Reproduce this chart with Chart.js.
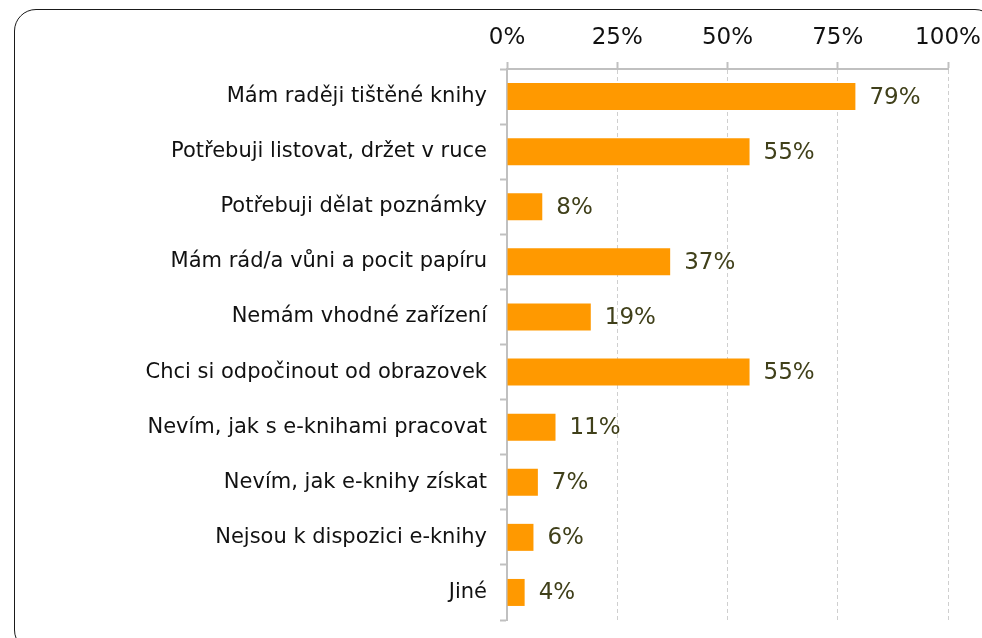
<!DOCTYPE html>
<html>
<head>
<meta charset="utf-8">
<script src="https://cdn.jsdelivr.net/npm/chart.js@4"></script>
<style>
  html, body { margin: 0; padding: 0; background: #fff; overflow: hidden; }
  #wrap { position: relative; width: 982px; height: 638px; overflow: hidden; }
  #frame {
    position: absolute; left: 14px; top: 9px; width: 983px; height: 643px;
    border: 1.5px solid #1a1a1a; border-radius: 22px; box-sizing: border-box;
    pointer-events: none;
  }
  #c { position: absolute; left: 0; top: 0; }
</style>
</head>
<body>
<div id="wrap">
  <div id="frame"></div>
  <canvas id="c" width="982" height="638"></canvas>
</div>
<script>
var categories = [
  "Mám raději tištěné knihy",
  "Potřebuji listovat, držet v ruce",
  "Potřebuji dělat poznámky",
  "Mám rád/a vůni a pocit papíru",
  "Nemám vhodné zařízení",
  "Chci si odpočinout od obrazovek",
  "Nevím, jak s e-knihami pracovat",
  "Nevím, jak e-knihy získat",
  "Nejsou k dispozici e-knihy",
  "Jiné"
];
var values = [79, 55, 8, 37, 19, 55, 11, 7, 6, 4];
var xTicks = [0, 25, 50, 75, 100];

var FONT = "'DejaVu Sans', Verdana, sans-serif";

// popisky hodnot vpravo od sloupců
var valueLabels = {
  id: "valueLabels",
  afterDatasetsDraw: function (chart) {
    var ctx = chart.ctx;
    var meta = chart.getDatasetMeta(0);
    ctx.save();
    ctx.font = "23px " + FONT;
    ctx.fillStyle = "#40401a";
    ctx.textAlign = "left";
    ctx.textBaseline = "middle";
    meta.data.forEach(function (bar, i) {
      ctx.fillText(values[i] + "%", bar.x + 14, bar.y + 1);
    });
    ctx.restore();
  }
};

Chart.defaults.font.family = FONT;

new Chart(document.getElementById("c"), {
  type: "bar",
  data: {
    labels: categories,
    datasets: [{
      data: values,
      backgroundColor: "#ff9900",
      borderWidth: 0,
      barPercentage: 0.49,
      categoryPercentage: 1
    }]
  },
  options: {
    indexAxis: "y",
    responsive: false,
    animation: false,
    layout: { padding: { left: 0, right: 34, top: 0, bottom: 18 } },
    plugins: { legend: { display: false }, tooltip: { enabled: false } },
    scales: {
      x: {
        position: "top",
        min: 0,
        max: 100,
        afterBuildTicks: function (s) {
          s.ticks = xTicks.map(function (v) { return { value: v }; });
        },
        afterFit: function (s) {
          s.height = 69;
          s.paddingLeft = 0; s.paddingRight = 0;
        },
        ticks: {
          callback: function (v) { return v + "%"; },
          color: "#111",
          font: { size: 23 },
          padding: 10,
          maxRotation: 0
        },
        grid: {
          color: "#cfcfcf",
          lineWidth: 1,
          tickColor: "#c0c0c0",
          tickWidth: 2,
          tickLength: 7,
          tickBorderDash: []
        },
        border: { color: "#c0c0c0", width: 2, dash: [4, 3] }
      },
      y: {
        afterFit: function (s) {
          s.width = 507;
          s.paddingTop = 0; s.paddingBottom = 0;
        },
        ticks: {
          color: "#111",
          font: { size: 21 },
          padding: 13
        },
        grid: {
          drawOnChartArea: false,
          offset: true,
          tickColor: "#c0c0c0",
          tickWidth: 2,
          tickLength: 7
        },
        border: { color: "#c0c0c0", width: 2 }
      }
    }
  },
  plugins: [valueLabels]
});
</script>
</body>
</html>
